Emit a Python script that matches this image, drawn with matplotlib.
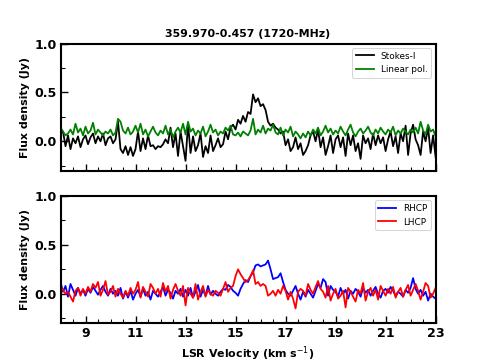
import numpy as np
import matplotlib
matplotlib.use("Agg")
import matplotlib.pyplot as plt
from matplotlib.ticker import MultipleLocator

title = "359.970-0.457 (1720-MHz)"
v_start, v_step = 8.0, 0.1

stokes_i = [0.08, 0.10, -0.05, 0.06, -0.08, 0.03, -0.02, 0.05, -0.06, 0.02,
            0.06, -0.03, 0.04, 0.08, -0.02, 0.05, 0.00, 0.08, -0.04, 0.03,
            0.05, -0.02, 0.02, 0.20, -0.08, -0.12, -0.05, -0.14, -0.06, -0.15,
            -0.08, 0.10, -0.10, 0.03, -0.08, 0.06, -0.05, -0.04, -0.08, -0.05,
            -0.06, -0.03, 0.02, -0.02, 0.14, -0.06, 0.08, -0.15, 0.10, -0.05,
            -0.20, 0.18, -0.12, 0.05, -0.10, -0.04, 0.08, -0.16, -0.05, -0.12,
            0.06, -0.10, -0.04, 0.03, -0.06, -0.03, 0.10, 0.02, 0.14, 0.17,
            0.12, 0.22, 0.18, 0.26, 0.20, 0.30, 0.28, 0.48, 0.40, 0.44,
            0.36, 0.38, 0.32, 0.20, 0.16, 0.18, 0.14, 0.12, 0.08, 0.10,
            -0.04, 0.02, -0.10, -0.06, 0.04, -0.08, -0.02, -0.14, -0.10, -0.04,
            0.06, 0.10, 0.00, 0.12, -0.06, 0.04, -0.14, -0.05, 0.06, -0.12,
            0.02, 0.06, -0.06, 0.04, -0.15, 0.08, -0.04, 0.06, -0.10, -0.02,
            -0.18, 0.06, -0.02, 0.03, -0.08, 0.08, -0.04, 0.06, -0.02, 0.04,
            -0.10, 0.02, 0.10, -0.05, 0.05, -0.12, 0.08, 0.00, 0.16, -0.14,
            0.08, 0.17, 0.02, -0.04, -0.14, 0.10, 0.00, 0.14, -0.12, 0.06,
            -0.16]

linear_pol = [0.14, 0.10, 0.06, 0.08, 0.12, 0.07, 0.18, 0.09, 0.13, 0.06,
              0.15, 0.08, 0.11, 0.19, 0.07, 0.12, 0.09, 0.06, 0.10, 0.08,
              0.12, 0.06, 0.09, 0.23, 0.20, 0.11, 0.08, 0.14, 0.07, 0.10,
              0.16, 0.09, 0.18, 0.07, 0.12, 0.05, 0.10, 0.15, 0.09, 0.06,
              0.11, 0.08, 0.16, 0.07, 0.12, 0.04, 0.10, 0.14, 0.09, 0.18,
              0.07, 0.20, 0.10, 0.13, 0.06, 0.11, 0.08, 0.15, 0.05, 0.10,
              0.17, 0.09, 0.12, 0.06, 0.10, 0.08, 0.14, 0.11, 0.16, 0.07,
              0.06, 0.09, 0.05, 0.10, 0.08, 0.06, 0.11, 0.23, 0.07, 0.12,
              0.09, 0.16, 0.08, 0.13, 0.11, 0.17, 0.09, 0.07, 0.14, 0.06,
              0.12, 0.09, 0.15, 0.05, 0.10, 0.07, 0.03, 0.08, 0.04, 0.10,
              0.06, 0.12, 0.08, 0.14, 0.06, 0.10, 0.16, 0.09, 0.13, 0.07,
              0.11, 0.08, 0.15, 0.10, 0.06, 0.12, 0.17, 0.09, 0.05, 0.10,
              0.13, 0.08, 0.11, 0.15, 0.09, 0.06, 0.12, 0.08, 0.14, 0.10,
              0.07, 0.12, 0.09, 0.15, 0.06, 0.11, 0.08, 0.13, 0.10, 0.07,
              0.12, 0.09, 0.14, 0.08, 0.20, 0.11, 0.07, 0.17, 0.10, 0.12,
              0.05]

rhcp = [0.12, 0.02, 0.08, -0.03, 0.10, 0.04, -0.02, 0.06, 0.00, 0.04,
        -0.02, 0.05, 0.01, 0.07, 0.03, -0.01, 0.04, 0.08, 0.02, -0.02,
        0.05, 0.00, 0.03, -0.02, 0.06, -0.05, 0.02, -0.04, 0.03, -0.06,
        0.00, 0.04, -0.03, 0.05, -0.02, 0.02, -0.06, 0.03, 0.00, -0.03,
        0.02, 0.07, -0.02, 0.04, 0.01, -0.05, 0.03, 0.00, 0.05, -0.03,
        0.04, -0.02, 0.06, -0.04, 0.02, 0.09, -0.03, 0.04, -0.02, 0.08,
        -0.01, 0.03, 0.00, -0.02, 0.02, 0.05, 0.04, 0.09, 0.07, 0.03,
        0.01, -0.02, 0.05, 0.10, 0.14, 0.12, 0.18, 0.22, 0.29, 0.30,
        0.28, 0.29, 0.30, 0.34, 0.25, 0.15, 0.16, 0.17, 0.21, 0.12,
        0.04, 0.00, -0.02, 0.03, 0.08, 0.00, -0.06, 0.02, -0.03, 0.04,
        0.00, -0.04, 0.03, 0.10, 0.06, 0.15, 0.12, -0.02, 0.08, 0.04,
        0.02, -0.03, 0.06, 0.00, 0.04, -0.05, 0.03, 0.00, 0.05, 0.02,
        -0.03, 0.06, 0.01, 0.04, -0.02, 0.03, 0.07, 0.00, -0.04, 0.03,
        0.05, 0.01, 0.07, 0.03, -0.02, 0.02, 0.00, -0.03, 0.04, 0.01,
        0.06, 0.16, 0.05, 0.00, 0.04, -0.02, 0.02, -0.07, 0.00, -0.03,
        -0.05]

lhcp = [0.08, 0.04, 0.00, 0.02, -0.03, -0.08, 0.03, 0.06, -0.02, 0.05,
        0.00, 0.07, 0.02, 0.10, 0.06, 0.12, -0.02, 0.04, 0.13, -0.01,
        0.02, 0.08, -0.03, 0.05, 0.00, -0.04, 0.03, -0.02, 0.06, 0.00,
        0.04, 0.12, -0.04, 0.07, 0.02, -0.03, 0.10, 0.06, 0.00, 0.05,
        -0.03, 0.11, 0.02, 0.08, -0.05, 0.04, 0.10, 0.03, -0.02, 0.08,
        -0.12, 0.06, 0.00, -0.04, 0.10, -0.06, 0.02, 0.08, -0.03, 0.04,
        0.00, -0.02, 0.03, 0.01, -0.02, 0.05, 0.12, 0.02, 0.06, 0.08,
        0.18, 0.25, 0.20, 0.16, 0.12, 0.14, 0.18, 0.24, 0.10, 0.12,
        0.08, 0.10, 0.08, -0.02, 0.00, 0.03, -0.02, 0.04, 0.00, 0.08,
        0.03, -0.06, 0.02, -0.05, -0.15, 0.02, 0.05, 0.03, -0.02, 0.10,
        0.04, 0.00, 0.07, 0.13, 0.05, 0.02, -0.04, 0.08, -0.07, 0.00,
        0.05, -0.05, -0.02, 0.03, -0.14, 0.06, 0.02, -0.03, -0.08, 0.04,
        0.00, 0.11, -0.07, 0.02, 0.06, -0.02, 0.04, -0.06, 0.08, 0.03,
        -0.02, 0.05, 0.00, 0.07, -0.04, 0.02, 0.06, -0.03, 0.04, 0.09,
        -0.02, 0.04, 0.10, 0.03, -0.06, 0.02, 0.11, 0.08, -0.04, 0.00,
        0.06]

xticks = [9, 11, 13, 15, 17, 19, 21, 23]
yticks = [0.0, 0.5, 1.0]

velocity = v_start + v_step * np.arange(len(stokes_i))

fig, (ax1, ax2) = plt.subplots(2, 1, figsize=(6.4, 4.8), dpi=75.625)

ax1.plot(velocity, stokes_i, color="black", lw=1.7, label="Stokes-I")
ax1.plot(velocity, linear_pol, color="green", lw=1.7, label="Linear pol.")
ax2.plot(velocity, rhcp, color="blue", lw=1.7, label="RHCP")
ax2.plot(velocity, lhcp, color="red", lw=1.7, label="LHCP")

for ax in (ax1, ax2):
    ax.set_xlim(8, 23)
    ax.set_ylim(-0.3, 1.0)
    ax.set_xticks(xticks)
    ax.set_yticks(yticks)
    ax.xaxis.set_minor_locator(MultipleLocator(0.5))
    ax.yaxis.set_minor_locator(MultipleLocator(0.25))
    ax.tick_params(which="major", direction="in", length=7, width=1.3,
                   labelsize=12, top=False, right=False)
    ax.tick_params(which="minor", direction="in", length=4, width=1.0,
                   top=False, right=False)
    for lab in ax.get_yticklabels() + ax.get_xticklabels():
        lab.set_fontweight("bold")
    for sp in ax.spines.values():
        sp.set_linewidth(2)
    ax.set_ylabel("Flux density (Jy)", fontsize=10.5, fontweight="bold")
    ax.legend(loc="upper right", fontsize=8.5, handlelength=2.0)

ax1.tick_params(labelbottom=False)
ax1.set_title(title, fontsize=10.5, fontweight="bold")
ax2.set_xlabel("LSR Velocity (km s$^{-1}$)", fontsize=10.5, fontweight="bold")

fig.savefig("out.png", dpi=75.625)
